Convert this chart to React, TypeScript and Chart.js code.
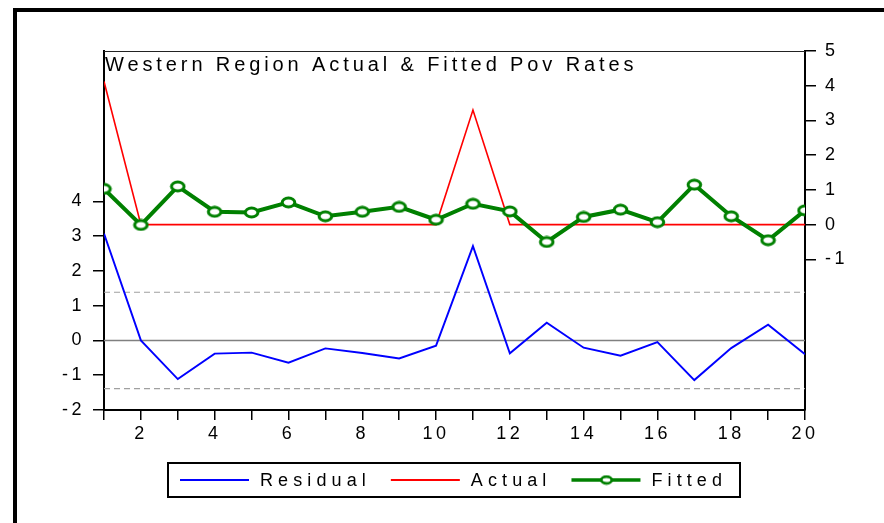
import React, { useEffect, useRef } from 'react';
import Chart from 'chart.js/auto';

// Observation index (1..20)
const periods = [1, 2, 3, 4, 5, 6, 7, 8, 9, 10, 11, 12, 13, 14, 15, 16, 17, 18, 19, 20];

// Right axis: actual and fitted poverty rates
const actual = [4.12, 0, 0, 0, 0, 0, 0, 0, 0, 0, 3.3, 0, 0, 0, 0, 0, 0, 0, 0, 0];
const fitted = [1.03, -0.01, 1.1, 0.37, 0.35, 0.64, 0.24, 0.37, 0.51, 0.14, 0.6, 0.38, -0.5, 0.22, 0.43, 0.07, 1.15, 0.24, -0.45, 0.41];

// Left axis: regression residuals
const residual = [3.07, 0.0, -1.11, -0.38, -0.35, -0.64, -0.23, -0.36, -0.52, -0.15, 2.71, -0.37, 0.51, -0.21, -0.44, -0.05, -1.14, -0.22, 0.45, -0.4];

// One standard error band around zero for the residuals
const residualSE = 1.385;

const residualTicks = [-2, -1, 0, 1, 2, 3, 4];
const levelTicks = [-1, 0, 1, 2, 3, 4, 5];
const xLabelEvery = 2;

const titleText = 'Western Region Actual & Fitted Pov Rates';
const seriesNames = ['Residual', 'Actual', 'Fitted'];

const FONT = '"Liberation Sans", Arial, sans-serif';
const BLUE = '#0000ff';
const RED = '#ff0000';
const GREEN = '#008000';

function makeMarker(w: number, h: number, rx: number, ry: number, lw: number): HTMLCanvasElement {
  const c = document.createElement('canvas');
  c.width = w;
  c.height = h;
  const g = c.getContext('2d')!;
  g.beginPath();
  g.ellipse(w / 2, h / 2, rx, ry, 0, 0, Math.PI * 2);
  g.fillStyle = '#ffffff';
  g.fill();
  g.lineWidth = lw;
  g.strokeStyle = GREEN;
  g.stroke();
  return c;
}

export default function App() {
  const ref = useRef<HTMLCanvasElement | null>(null);

  useEffect(() => {
    const canvas = ref.current;
    if (!canvas) return;
    const marker = makeMarker(17, 13, 6.3, 4.4, 3);
    const legendMarker = makeMarker(15, 11, 5.2, 3.4, 2.6);

    const decorations = {
      id: 'decorations',
      beforeDraw(chart: any) {
        const { ctx, width, height } = chart;
        ctx.save();
        ctx.fillStyle = '#ffffff';
        ctx.fillRect(0, 0, width, height);
        // outer frame
        ctx.fillStyle = '#000000';
        ctx.fillRect(13, 8, width - 13, 4);
        ctx.fillRect(13, 8, 4, height - 8);
        ctx.restore();
        ctx.letterSpacing = '3.5px';
      },
      afterDraw(chart: any) {
        const { ctx, chartArea } = chart;
        ctx.save();
        // thin top edge of plot box
        ctx.strokeStyle = '#222222';
        ctx.lineWidth = 1;
        ctx.beginPath();
        ctx.moveTo(chartArea.left, chartArea.top + 0.5);
        ctx.lineTo(chartArea.right, chartArea.top + 0.5);
        ctx.stroke();

        // title inside the plot
        ctx.fillStyle = '#000000';
        ctx.font = `20px ${FONT}`;
        ctx.letterSpacing = '3.9px';
        ctx.textAlign = 'left';
        ctx.textBaseline = 'alphabetic';
        ctx.fillText(titleText, chartArea.left + 1, chartArea.top + 20);

        // legend box
        const bx = 168, by = 463, bw = 572, bh = 34;
        ctx.lineWidth = 2;
        ctx.strokeStyle = '#000000';
        ctx.strokeRect(bx, by, bw, bh);
        ctx.font = `18px ${FONT}`;
        ctx.letterSpacing = '5.1px';
        ctx.textBaseline = 'middle';
        const cy = by + bh / 2;
        const styles = [
          { color: BLUE, width: 2, marker: false },
          { color: RED, width: 2, marker: false },
          { color: GREEN, width: 3.5, marker: true },
        ];
        let x = bx + 12;
        seriesNames.forEach((name, i) => {
          const s = styles[i];
          ctx.strokeStyle = s.color;
          ctx.lineWidth = s.width;
          ctx.beginPath();
          ctx.moveTo(x, cy);
          ctx.lineTo(x + 69, cy);
          ctx.stroke();
          if (s.marker) ctx.drawImage(legendMarker, x + 35 - 7.5, cy - 5.5);
          ctx.fillStyle = '#000000';
          ctx.fillText(name, x + 80, cy + 1);
          x = x + 80 + ctx.measureText(name).width + 20;
        });
        ctx.restore();
        ctx.letterSpacing = '0px';
      },
    };

    const toPts = (ys: number[]) => periods.map((p, i) => ({ x: p, y: ys[i] }));
    const flat = (v: number) => [
      { x: periods[0], y: v },
      { x: periods[periods.length - 1], y: v },
    ];

    const tickFont = { family: FONT, size: 18 };

    const chart = new Chart(canvas, {
      type: 'line',
      data: {
        datasets: [
          {
            label: seriesNames[2],
            data: toPts(fitted),
            yAxisID: 'yR',
            borderColor: GREEN,
            borderWidth: 4,
            pointStyle: marker as any,
            pointRadius: 7,
            clip: 0,
            order: 0,
          },
          {
            label: seriesNames[1],
            data: toPts(actual),
            yAxisID: 'yR',
            borderColor: RED,
            borderWidth: 1.6,
            pointRadius: 0,
            clip: 0,
            order: 1,
          },
          {
            label: seriesNames[0],
            data: toPts(residual),
            yAxisID: 'yL',
            borderColor: BLUE,
            borderWidth: 1.9,
            pointRadius: 0,
            clip: 0,
            order: 2,
          },
          {
            label: 'zero',
            data: flat(0),
            yAxisID: 'yL',
            borderColor: '#808080',
            borderWidth: 1.6,
            pointRadius: 0,
            order: 3,
          },
          {
            label: '+SE',
            data: flat(residualSE),
            yAxisID: 'yL',
            borderColor: '#a0a0a0',
            borderWidth: 1.2,
            borderDash: [6, 4],
            pointRadius: 0,
            order: 3,
          },
          {
            label: '-SE',
            data: flat(-residualSE),
            yAxisID: 'yL',
            borderColor: '#a0a0a0',
            borderWidth: 1.2,
            borderDash: [6, 4],
            pointRadius: 0,
            order: 3,
          },
        ],
      },
      options: {
        responsive: false,
        animation: false,
        devicePixelRatio: 1,
        layout: { padding: { top: 51, left: 0, right: 0, bottom: 0 } },
        plugins: {
          legend: { display: false },
          tooltip: { enabled: false },
          title: { display: false },
        },
        elements: { line: { tension: 0 } },
        scales: {
          x: {
            type: 'linear',
            position: 'bottom',
            min: periods[0],
            max: periods[periods.length - 1],
            afterFit: (s: any) => {
              s.height = 113;
            },
            afterBuildTicks: (s: any) => {
              s.ticks = periods.map((v) => ({ value: v }));
            },
            ticks: {
              autoSkip: false,
              maxRotation: 0,
              color: '#000000',
              font: tickFont,
              padding: 3,
              callback: (v: any) => (Number(v) % xLabelEvery === 0 ? String(v) : ''),
            },
            grid: {
              display: true,
              drawOnChartArea: false,
              drawTicks: true,
              tickLength: 10,
              color: '#000000',
              lineWidth: 1.5,
            },
            border: { display: true, color: '#000000', width: 2 },
          },
          yL: {
            type: 'linear',
            position: 'left',
            min: -2,
            max: 8.32,
            afterFit: (s: any) => {
              s.width = 104;
            },
            afterBuildTicks: (s: any) => {
              s.ticks = residualTicks.map((v) => ({ value: v }));
            },
            ticks: { color: '#000000', font: tickFont, padding: 8 },
            grid: {
              display: true,
              drawOnChartArea: false,
              drawTicks: true,
              tickLength: 11,
              color: '#000000',
              lineWidth: 1.5,
            },
            border: { display: true, color: '#000000', width: 2 },
          },
          yR: {
            type: 'linear',
            position: 'right',
            min: -5.34,
            max: 5,
            afterFit: (s: any) => {
              s.width = 79;
            },
            afterBuildTicks: (s: any) => {
              s.ticks = levelTicks.map((v) => ({ value: v }));
            },
            ticks: { color: '#000000', font: tickFont, padding: 9 },
            grid: {
              display: true,
              drawOnChartArea: false,
              drawTicks: true,
              tickLength: 11,
              color: '#000000',
              lineWidth: 1.5,
            },
            border: { display: true, color: '#000000', width: 2 },
          },
        },
      },
      plugins: [decorations],
    } as any);

    return () => chart.destroy();
  }, []);

  return (
    <div style={{ position: 'absolute', left: 0, top: 0, width: 884, height: 523, background: '#fff' }}>
      <canvas ref={ref} width={884} height={523} style={{ display: 'block' }} />
    </div>
  );
}
